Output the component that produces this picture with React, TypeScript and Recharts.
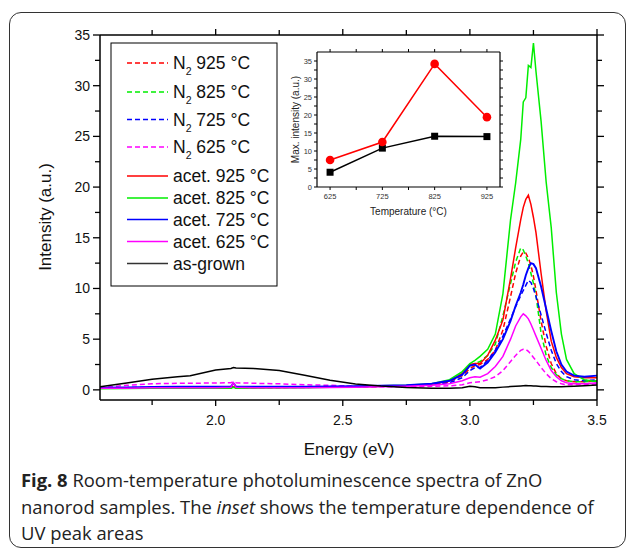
import React from 'react';
import { LineChart, Line, XAxis, YAxis } from 'recharts';

// ---------- main spectra data ----------
const energy = [1.545, 1.65, 1.75, 1.85, 1.9, 2.0, 2.06, 2.07, 2.08, 2.15, 2.25, 2.35, 2.45, 2.55, 2.65, 2.75, 2.85, 2.92, 2.97, 3.0, 3.02, 3.04, 3.07, 3.1, 3.13, 3.16, 3.18, 3.2, 3.21, 3.22, 3.23, 3.24, 3.25, 3.26, 3.28, 3.3, 3.32, 3.34, 3.36, 3.38, 3.41, 3.45, 3.5];

const n2_925 = [0.18, 0.18, 0.2, 0.2, 0.2, 0.22, 0.22, 0.35, 0.22, 0.22, 0.24, 0.26, 0.28, 0.3, 0.35, 0.4, 0.5, 0.8, 1.4, 2.1, 2.4, 2.5, 3.0, 3.9, 5.9, 9.2, 11.5, 13.2, 13.6, 13.5, 13.0, 12.3, 11.2, 9.8, 6.8, 4.3, 2.6, 1.6, 1.1, 0.9, 0.8, 0.8, 0.9];
const n2_825 = [0.15, 0.15, 0.17, 0.18, 0.18, 0.2, 0.2, 0.3, 0.2, 0.2, 0.22, 0.24, 0.26, 0.3, 0.35, 0.4, 0.55, 0.9, 1.6, 2.3, 2.6, 2.8, 3.4, 4.5, 7.3, 10.5, 12.6, 14.0, 13.8, 13.2, 12.5, 11.5, 10.5, 9.3, 5.6, 3.4, 2.2, 1.5, 1.1, 0.9, 0.8, 0.8, 0.9];
const n2_725 = [0.2, 0.22, 0.25, 0.25, 0.25, 0.27, 0.28, 0.5, 0.28, 0.28, 0.28, 0.3, 0.32, 0.33, 0.35, 0.4, 0.5, 0.7, 1.2, 1.9, 2.2, 2.2, 2.9, 3.9, 5.3, 7.0, 8.2, 9.3, 9.8, 10.3, 10.8, 10.6, 10.0, 9.2, 7.4, 5.6, 3.9, 2.6, 1.8, 1.3, 1.0, 0.9, 1.0];
const n2_625 = [0.2, 0.45, 0.6, 0.65, 0.65, 0.68, 0.7, 0.8, 0.7, 0.65, 0.6, 0.5, 0.45, 0.35, 0.3, 0.3, 0.35, 0.4, 0.5, 0.7, 0.75, 0.8, 1.0, 1.3, 1.9, 2.8, 3.4, 3.9, 4.0, 4.0, 3.8, 3.5, 3.2, 2.9, 2.2, 1.6, 1.1, 0.8, 0.6, 0.5, 0.5, 0.5, 0.6];
const acet_925 = [0.15, 0.17, 0.18, 0.2, 0.2, 0.22, 0.22, 0.3, 0.22, 0.22, 0.24, 0.26, 0.28, 0.3, 0.35, 0.4, 0.55, 0.9, 1.6, 2.5, 2.6, 2.6, 3.4, 4.9, 6.9, 11.0, 14.0, 16.8, 18.0, 18.8, 19.2, 18.3, 17.0, 15.5, 11.5, 7.8, 4.8, 3.2, 2.2, 1.6, 1.3, 1.2, 1.2];
const acet_825 = [0.12, 0.13, 0.15, 0.15, 0.15, 0.17, 0.17, 0.25, 0.17, 0.18, 0.2, 0.22, 0.25, 0.3, 0.4, 0.45, 0.6, 1.0, 1.8, 2.6, 2.9, 3.3, 4.0, 5.5, 9.5, 16.8, 20.4, 24.7, 28.4, 28.8, 32.0, 31.8, 34.2, 31.4, 26.5, 20.5, 16.0, 9.6, 5.5, 3.0, 1.6, 1.0, 0.8];
const acet_725 = [0.22, 0.25, 0.28, 0.3, 0.3, 0.3, 0.32, 0.65, 0.32, 0.3, 0.3, 0.32, 0.34, 0.36, 0.4, 0.45, 0.6, 0.9, 1.5, 2.4, 2.5, 2.1, 2.7, 3.7, 5.0, 6.8, 8.3, 9.6, 10.4, 11.3, 12.0, 12.5, 12.4, 12.0, 10.2, 8.0, 5.8, 3.8, 2.5, 1.8, 1.4, 1.3, 1.4];
const acet_625 = [0.15, 0.17, 0.2, 0.2, 0.2, 0.22, 0.25, 0.7, 0.25, 0.22, 0.22, 0.22, 0.24, 0.26, 0.3, 0.35, 0.45, 0.6, 0.9, 1.2, 1.3, 1.25, 1.6, 2.3, 3.3, 5.0, 6.3, 7.2, 7.5, 7.3, 7.0, 6.5, 5.9, 5.3, 4.1, 2.9, 1.9, 1.3, 0.9, 0.7, 0.6, 0.6, 0.7];
const asGrown = [0.3, 0.68, 1.05, 1.3, 1.4, 1.95, 2.1, 2.2, 2.15, 2.1, 1.9, 1.45, 0.95, 0.58, 0.38, 0.24, 0.17, 0.17, 0.2, 0.35, 0.3, 0.22, 0.2, 0.22, 0.27, 0.32, 0.35, 0.38, 0.4, 0.42, 0.4, 0.4, 0.39, 0.37, 0.34, 0.32, 0.3, 0.3, 0.3, 0.32, 0.35, 0.4, 0.48];

const xTicks = [1.75, 2.0, 2.25, 2.5, 2.75, 3.0, 3.25, 3.5];
const xMajor = [2.0, 2.5, 3.0, 3.5];
const yTicks = [0, 2.5, 5, 7.5, 10, 12.5, 15, 17.5, 20, 22.5, 25, 27.5, 30, 32.5, 35];

// ---------- inset data ----------
const temps = [625, 725, 825, 925];
const acetMax = [7.5, 12.5, 34.2, 19.4];
const n2Max = [4.1, 10.8, 14.1, 14.0];
const insetXTicks = [625, 675, 725, 775, 825, 875, 925];
const insetXMajor = [625, 725, 825, 925];
const insetYTicks = [0, 2.5, 5, 7.5, 10, 12.5, 15, 17.5, 20, 22.5, 25, 27.5, 30, 32.5, 35];

const seriesDefs = [
  { key: 'n2_925', vals: n2_925, color: '#ff0000', dash: true, label: '925 °C', n2: true },
  { key: 'n2_825', vals: n2_825, color: '#00ee00', dash: true, label: '825 °C', n2: true },
  { key: 'n2_725', vals: n2_725, color: '#0000ff', dash: true, label: '725 °C', n2: true },
  { key: 'n2_625', vals: n2_625, color: '#ff00ff', dash: true, label: '625 °C', n2: true },
  { key: 'acet_925', vals: acet_925, color: '#ff0000', dash: false, label: 'acet. 925 °C', n2: false },
  { key: 'acet_825', vals: acet_825, color: '#00ee00', dash: false, label: 'acet. 825 °C', n2: false },
  { key: 'acet_725', vals: acet_725, color: '#0000ff', dash: false, label: 'acet. 725 °C', n2: false },
  { key: 'acet_625', vals: acet_625, color: '#ff00ff', dash: false, label: 'acet. 625 °C', n2: false },
  { key: 'asGrown', vals: asGrown, color: '#000000', dash: false, label: 'as-grown', n2: false },
];

const rows = energy.map((e, i) => {
  const r: any = { e };
  seriesDefs.forEach((s) => { r[s.key] = s.vals[i]; });
  return r;
});

const insetRows = temps.map((t, i) => ({ t, acet: acetMax[i], n2: n2Max[i] }));

const FONT = 'Liberation Sans, Arial, Helvetica, sans-serif';

// ---------- tick renderers ----------
const BottomTick = (p: any) => {
  const v = p.payload.value;
  const major = xMajor.some((m) => Math.abs(m - v) < 1e-6);
  return (
    <g>
      <line x1={p.x} x2={p.x} y1={p.y} y2={p.y + (major ? 6 : 5)} stroke="#000" strokeWidth={1.3} />
      {major && (
        <text x={p.x} y={p.y + 20} textAnchor="middle" dominantBaseline="central" fontSize={14} fontFamily={FONT} fill="#111">
          {v.toFixed(1)}
        </text>
      )}
    </g>
  );
};
const TopTick = (p: any) => {
  const v = p.payload.value;
  const major = xMajor.some((m) => Math.abs(m - v) < 1e-6);
  return <line x1={p.x} x2={p.x} y1={p.y} y2={p.y - (major ? 6 : 5)} stroke="#000" strokeWidth={1.3} />;
};
const LeftTick = (p: any) => {
  const v = p.payload.value;
  const major = v % 5 === 0;
  return (
    <g>
      <line x1={p.x} x2={p.x - (major ? 7 : 5)} y1={p.y} y2={p.y} stroke="#000" strokeWidth={1.3} />
      {major && (
        <text x={p.x - 10} y={p.y} textAnchor="end" dominantBaseline="central" fontSize={14} fontFamily={FONT} fill="#111">
          {v}
        </text>
      )}
    </g>
  );
};
const RightTick = (p: any) => {
  const v = p.payload.value;
  const major = v % 5 === 0;
  return <line x1={p.x} x2={p.x + (major ? 7 : 5)} y1={p.y} y2={p.y} stroke="#000" strokeWidth={1.3} />;
};

const InBottomTick = (p: any) => {
  const v = p.payload.value;
  const major = insetXMajor.includes(v);
  return (
    <g>
      <line x1={p.x} x2={p.x} y1={p.y} y2={p.y + 3} stroke="#000" strokeWidth={1} />
      {major && (
        <text x={p.x} y={p.y + 9} textAnchor="middle" dominantBaseline="central" fontSize={7.5} fontFamily={FONT} fill="#333">
          {v}
        </text>
      )}
    </g>
  );
};
const InTopTick = (p: any) => <line x1={p.x} x2={p.x} y1={p.y} y2={p.y - 3} stroke="#000" strokeWidth={1} />;
const InLeftTick = (p: any) => {
  const v = p.payload.value;
  const major = v % 5 === 0;
  return (
    <g>
      <line x1={p.x} x2={p.x - 3} y1={p.y} y2={p.y} stroke="#000" strokeWidth={1} />
      {major && (
        <text x={p.x - 5} y={p.y} textAnchor="end" dominantBaseline="central" fontSize={7.5} fontFamily={FONT} fill="#333">
          {v}
        </text>
      )}
    </g>
  );
};
const InRightTick = (p: any) => <line x1={p.x} x2={p.x + 3} y1={p.y} y2={p.y} stroke="#000" strokeWidth={1} />;

const SquareDot = (p: any) => {
  if (p.cx == null) return null;
  return <rect x={p.cx - 3.5} y={p.cy - 3.5} width={7} height={7} fill="#000" />;
};
const CircleDot = (p: any) => {
  if (p.cx == null) return null;
  return <circle cx={p.cx} cy={p.cy} r={4.3} fill="#ff0000" />;
};

// ---------- legend ----------
const legendY = [63, 92, 119.5, 147, 176, 198, 219.5, 241.5, 263.5];

const LegendBox = () => (
  <svg width={630} height={552} style={{ position: 'absolute', left: 0, top: 0, pointerEvents: 'none' }}>
    <rect x={111} y={43} width={166} height={243} fill="#fff" stroke="#000" strokeWidth={1} />
    {seriesDefs.map((s, i) => {
      const cy = legendY[i];
      const base = cy + 6.2;
      return (
        <g key={s.key}>
          <line x1={127} x2={168} y1={cy} y2={cy} stroke={s.color === '#000000' ? '#333' : s.color} strokeWidth={1.6} strokeDasharray={s.dash ? '5 3' : undefined} />
          {s.n2 ? (
            <text x={173} y={base} fontSize={17.5} fontFamily={FONT} fill="#111">
              N<tspan fontSize={10.5} dy={6}>2</tspan><tspan dy={-6}> {s.label}</tspan>
            </text>
          ) : (
            <text x={173} y={base} fontSize={17.5} fontFamily={FONT} fill="#111">{s.label}</text>
          )}
        </g>
      );
    })}
  </svg>
);

export default function App() {
  return (
    <div style={{ position: 'absolute', left: 0, top: 0, width: 630, height: 552, background: '#fff', overflow: 'hidden' }}>
      {/* outer frame */}
      <div style={{ position: 'absolute', left: 9, top: 12, width: 617, height: 536, border: '1.5px solid #333', borderRadius: 12, boxSizing: 'border-box' }} />

      {/* main chart */}
      <div style={{ position: 'absolute', left: 0, top: 0 }}>
        <LineChart width={630} height={552} data={rows} margin={{ top: 25, right: 23, bottom: 112, left: 40 }}>
          <XAxis xAxisId="b" dataKey="e" type="number" domain={[1.545, 3.5]} ticks={xTicks} interval={0} allowDataOverflow
            orientation="bottom" height={40} tickSize={0} tickMargin={0} tickLine={false} tick={BottomTick}
            axisLine={{ stroke: '#000', strokeWidth: 1.5 }} />
          <XAxis xAxisId="t" dataKey="e" type="number" domain={[1.545, 3.5]} ticks={xTicks} interval={0} allowDataOverflow
            orientation="top" height={10} tickSize={0} tickMargin={0} tickLine={false} tick={TopTick}
            axisLine={{ stroke: '#000', strokeWidth: 1.5 }} />
          <YAxis yAxisId="l" type="number" domain={[-1, 35]} ticks={yTicks} interval={0} allowDataOverflow
            orientation="left" width={60} tickSize={0} tickMargin={0} tickLine={false} tick={LeftTick}
            axisLine={{ stroke: '#000', strokeWidth: 1.5 }} />
          <YAxis yAxisId="r" type="number" domain={[-1, 35]} ticks={yTicks} interval={0} allowDataOverflow
            orientation="right" width={10} tickSize={0} tickMargin={0} tickLine={false} tick={RightTick}
            axisLine={{ stroke: '#000', strokeWidth: 1.5 }} />
          <Line xAxisId="t" yAxisId="r" dataKey="asGrown" stroke="none" dot={false} activeDot={false} isAnimationActive={false} legendType="none" />
          {seriesDefs.map((s) => (
            <Line key={s.key} xAxisId="b" yAxisId="l" type="linear" dataKey={s.key} stroke={s.color}
              strokeWidth={s.key === 'acet_725' ? 1.9 : 1.5} strokeDasharray={s.dash ? '5 3' : undefined}
              dot={false} activeDot={false} isAnimationActive={false} />
          ))}
        </LineChart>
      </div>

      {/* main axis titles */}
      <svg width={630} height={552} style={{ position: 'absolute', left: 0, top: 0, pointerEvents: 'none' }}>
        <text x={45} y={217} transform="rotate(-90 45 217)" textAnchor="middle" dominantBaseline="central" fontSize={17} fontFamily={FONT} fill="#111">Intensity (a.u.)</text>
        <text x={349} y={449} textAnchor="middle" dominantBaseline="central" fontSize={17} fontFamily={FONT} fill="#111">Energy (eV)</text>
      </svg>

      {/* inset */}
      <div style={{ position: 'absolute', left: 275, top: 30 }}>
        <LineChart width={230} height={200} data={insetRows} margin={{ top: 17, right: 0, bottom: 13, left: 12 }}>
          <XAxis xAxisId="b" dataKey="t" type="number" domain={[600, 950]} ticks={insetXTicks} interval={0} allowDataOverflow
            orientation="bottom" height={30} tickSize={0} tickMargin={0} tickLine={false} tick={InBottomTick}
            axisLine={{ stroke: '#000', strokeWidth: 1.2 }} />
          <XAxis xAxisId="t" dataKey="t" type="number" domain={[600, 950]} ticks={insetXTicks} interval={0} allowDataOverflow
            orientation="top" height={5} tickSize={0} tickMargin={0} tickLine={false} tick={InTopTick}
            axisLine={{ stroke: '#000', strokeWidth: 1.2 }} />
          <YAxis yAxisId="l" type="number" domain={[0, 37.5]} ticks={insetYTicks} interval={0} allowDataOverflow
            orientation="left" width={30} tickSize={0} tickMargin={0} tickLine={false} tick={InLeftTick}
            axisLine={{ stroke: '#000', strokeWidth: 1.2 }} />
          <YAxis yAxisId="r" type="number" domain={[0, 37.5]} ticks={insetYTicks} interval={0} allowDataOverflow
            orientation="right" width={5} tickSize={0} tickMargin={0} tickLine={false} tick={InRightTick}
            axisLine={{ stroke: '#000', strokeWidth: 1.2 }} />
          <Line xAxisId="t" yAxisId="r" dataKey="n2" stroke="none" dot={false} activeDot={false} isAnimationActive={false} legendType="none" />
          <Line xAxisId="b" yAxisId="l" type="linear" dataKey="n2" stroke="#000" strokeWidth={1.5} dot={SquareDot} activeDot={false} isAnimationActive={false} />
          <Line xAxisId="b" yAxisId="l" type="linear" dataKey="acet" stroke="#ff0000" strokeWidth={1.5} dot={CircleDot} activeDot={false} isAnimationActive={false} />
        </LineChart>
      </div>
      <svg width={630} height={552} style={{ position: 'absolute', left: 0, top: 0, pointerEvents: 'none' }}>
        <text x={295} y={119.5} transform="rotate(-90 295 119.5)" textAnchor="middle" dominantBaseline="central" fontSize={10} fontFamily={FONT} fill="#222">Max. intensity (a.u.)</text>
        <text x={408.5} y={211} textAnchor="middle" dominantBaseline="central" fontSize={10} fontFamily={FONT} fill="#222">Temperature (°C)</text>
      </svg>

      <LegendBox />

      {/* caption */}
      <div style={{ position: 'absolute', left: 21, top: 467, fontFamily: '"Open Sans", sans-serif', fontSize: 18.4, lineHeight: '26.5px', color: '#222', whiteSpace: 'nowrap' }}>
        <div><b>Fig. 8</b> Room-temperature photoluminescence spectra of ZnO</div>
        <div>nanorod samples. The <i>inset</i> shows the temperature dependence of</div>
        <div>UV peak areas</div>
      </div>
    </div>
  );
}
